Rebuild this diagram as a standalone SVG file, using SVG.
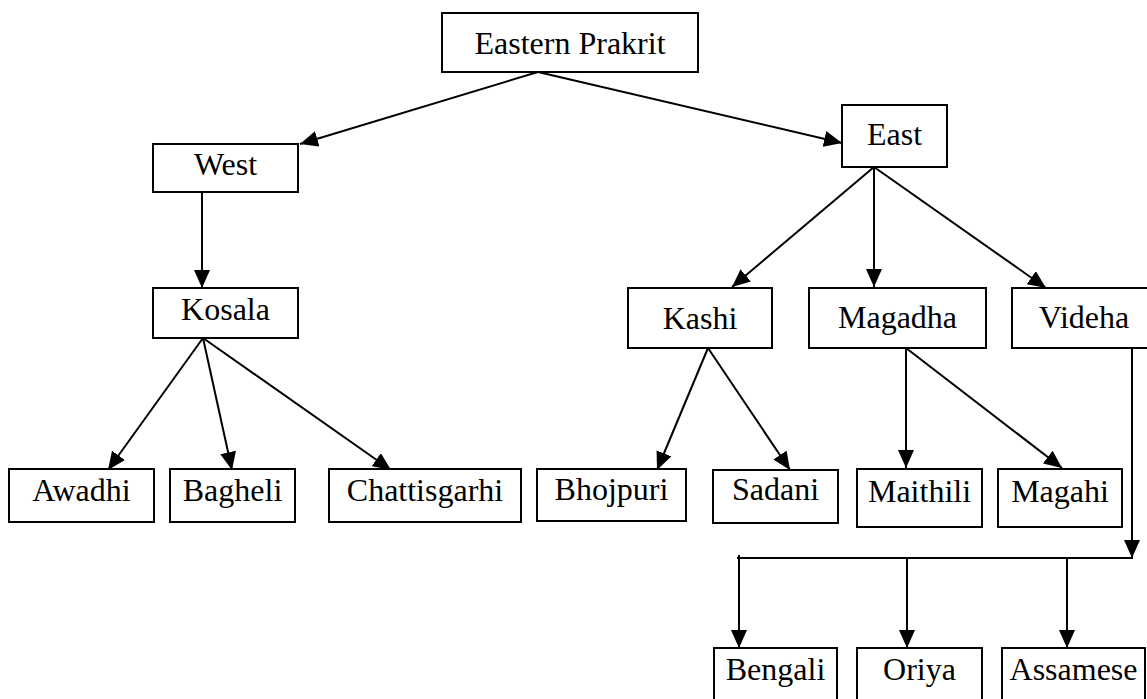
<svg xmlns="http://www.w3.org/2000/svg" width="1147" height="699" viewBox="0 0 1147 699">
<style>
.box{fill:#fff;stroke:#000;stroke-width:2}
.lbl{font-family:"Liberation Serif","Times New Roman",serif;font-size:32px;fill:#000;text-anchor:middle}
.c{stroke:#000;stroke-width:2;fill:none}
.a{marker-end:url(#ah)}
</style>
<defs>
<marker id="ah" markerUnits="userSpaceOnUse" markerWidth="18" markerHeight="16" refX="18" refY="8" orient="auto">
<path d="M0,0 L18,8 L0,16 z" fill="#000"/>
</marker>
</defs>
<rect width="1147" height="699" fill="#fff"/>
<g id="connectors">
<line class="c a" x1="538" y1="72" x2="300" y2="144"/>
<line class="c a" x1="538" y1="72" x2="842" y2="143"/>
<line class="c a" x1="202" y1="192" x2="202" y2="288"/>
<line class="c a" x1="203" y1="338" x2="108" y2="470"/>
<line class="c a" x1="203" y1="338" x2="232" y2="470"/>
<line class="c a" x1="203" y1="338" x2="391" y2="470"/>
<line class="c a" x1="874" y1="167" x2="732" y2="287"/>
<line class="c a" x1="874" y1="167" x2="874" y2="287"/>
<line class="c a" x1="874" y1="167" x2="1046" y2="288"/>
<line class="c a" x1="708" y1="348" x2="657" y2="470"/>
<line class="c a" x1="708" y1="348" x2="790" y2="470"/>
<line class="c a" x1="906" y1="348" x2="906" y2="468"/>
<line class="c a" x1="906" y1="348" x2="1062" y2="468"/>
<line class="c a" x1="1132" y1="346" x2="1132" y2="558"/>
<line class="c" x1="737" y1="558" x2="1133" y2="558"/>
<line class="c a" x1="739" y1="555" x2="739" y2="648"/>
<line class="c a" x1="907" y1="558" x2="907" y2="648"/>
<line class="c a" x1="1067" y1="558" x2="1067" y2="648"/>
</g>
<g id="n-eastern-prakrit"><rect class="box" x="442" y="13" width="256" height="59"/><text class="lbl" x="570" y="54">Eastern Prakrit</text></g>
<g id="n-west"><rect class="box" x="153" y="144" width="145" height="48"/><text class="lbl" x="225.5" y="175">West</text></g>
<g id="n-east"><rect class="box" x="842" y="105" width="105" height="62"/><text class="lbl" x="894.5" y="145">East</text></g>
<g id="n-kosala"><rect class="box" x="153" y="288" width="145" height="50"/><text class="lbl" x="225.5" y="320">Kosala</text></g>
<g id="n-kashi"><rect class="box" x="628" y="288" width="144" height="60"/><text class="lbl" x="700" y="329">Kashi</text></g>
<g id="n-magadha"><rect class="box" x="809" y="288" width="177" height="60"/><text class="lbl" x="897.5" y="328">Magadha</text></g>
<g id="n-videha"><rect class="box" x="1012" y="288" width="144" height="60"/><text class="lbl" x="1084" y="328">Videha</text></g>
<g id="n-awadhi"><rect class="box" x="9" y="469" width="145" height="53"/><text class="lbl" x="81.5" y="501">Awadhi</text></g>
<g id="n-bagheli"><rect class="box" x="170" y="469" width="125" height="53"/><text class="lbl" x="232.5" y="501">Bagheli</text></g>
<g id="n-chattisgarhi"><rect class="box" x="329" y="469" width="192" height="53"/><text class="lbl" x="425" y="501">Chattisgarhi</text></g>
<g id="n-bhojpuri"><rect class="box" x="537" y="469" width="149" height="52"/><text class="lbl" x="611.5" y="500">Bhojpuri</text></g>
<g id="n-sadani"><rect class="box" x="713" y="470" width="125" height="53"/><text class="lbl" x="775.5" y="500">Sadani</text></g>
<g id="n-maithili"><rect class="box" x="857" y="469" width="125" height="58"/><text class="lbl" x="919.5" y="502">Maithili</text></g>
<g id="n-magahi"><rect class="box" x="998" y="469" width="124" height="58"/><text class="lbl" x="1060" y="502">Magahi</text></g>
<g id="n-bengali"><rect class="box" x="714" y="648" width="123" height="70"/><text class="lbl" x="775.5" y="680">Bengali</text></g>
<g id="n-oriya"><rect class="box" x="857" y="648" width="125" height="70"/><text class="lbl" x="919.5" y="680">Oriya</text></g>
<g id="n-assamese"><rect class="box" x="1002" y="648" width="143" height="70"/><text class="lbl" x="1073.5" y="680">Assamese</text></g>
</svg>
